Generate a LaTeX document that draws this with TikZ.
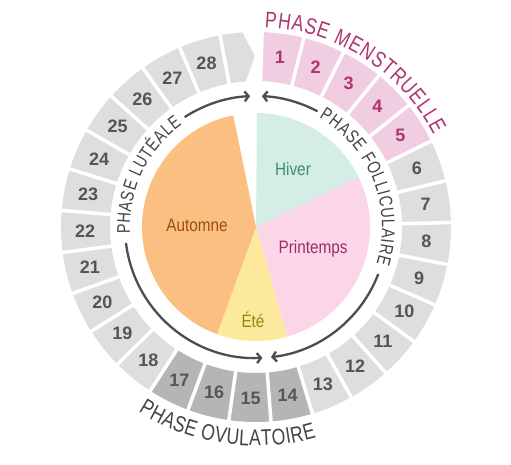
\documentclass[tikz,border=0pt]{standalone}
\usepackage{fontspec}
\setmainfont{Liberation Sans}
\newfontfamily\condfont{Liberation Sans}[FakeStretch=0.85]
\newfontfamily\narrowfont{Liberation Sans}[FakeStretch=0.78]
\usetikzlibrary{decorations.text,arrows.meta}
\definecolor{hiver}{HTML}{D4EDE6}
\definecolor{hivertext}{HTML}{3D8C70}
\definecolor{printemps}{HTML}{FBD5E8}
\definecolor{printempstext}{HTML}{9B2D6C}
\definecolor{ete}{HTML}{FDE99B}
\definecolor{etetext}{HTML}{8F8A17}
\definecolor{automne}{HTML}{FBBF82}
\definecolor{automnetext}{HTML}{9C4E10}
\definecolor{pinkseg}{HTML}{F0CDE0}
\definecolor{lightseg}{HTML}{DEDEDE}
\definecolor{darkseg}{HTML}{B5B5B5}
\definecolor{magtext}{HTML}{B0346E}
\definecolor{numgray}{HTML}{555555}
\definecolor{phasegray}{HTML}{444444}
\definecolor{arrowgray}{HTML}{4D4D4D}
\newcommand\innerphasefont{\narrowfont\fontsize{18.5}{18.5}\selectfont\color{phasegray}}
\newcommand\menstfont{\narrowfont\fontsize{22.5}{22.5}\selectfont\color{magtext}}
\newcommand\ovulfont{\narrowfont\fontsize{22.5}{22.5}\selectfont\color{phasegray}}
\tikzset{
  numlabel/.style={font=\fontsize{18}{18}\selectfont\bfseries, inner sep=0pt},
  pielabel/.style={font=\condfont\fontsize{18}{18}\selectfont, inner sep=0pt},
  cyclearrow/.style={draw=arrowgray, line width=2.3pt, -{Straight Barb[length=4pt,width=10pt,line width=2.3pt]}},
  sepline/.style={draw=white, line width=3.5pt}
}
\begin{document}
\begin{tikzpicture}[x=1pt,y=1pt]
\useasboundingbox (0,0) rectangle (511,465);
\fill[white] (0,0) rectangle (511,465);
\coordinate (c) at (256,238);
\begin{scope}[shift={(c)}]
  % pie
  \fill[hiver] (0,0) -- (89.5:114) arc[start angle=89.5,end angle=26,radius=114] -- cycle;
  \fill[printemps] (0,0) -- (26:114) arc[start angle=26,end angle=-74,radius=114] -- cycle;
  \fill[ete] (0,0) -- (-74:114) arc[start angle=-74,end angle=-110,radius=114] -- cycle;
  \fill[automne] (0,0) -- (-110:114) arc[start angle=-110,end angle=-258.5,radius=114] -- cycle;
  \node[pielabel, text=hivertext] (hiver) at (37,58) {Hiver};
  \node[pielabel, text=printempstext] (printemps) at (57,-22) {Printemps};
  \node[pielabel, text=etetext] (ete) at (-3,-93) {Été};
  \node[pielabel, text=automnetext] (automne) at (-59,2) {Automne};
  % ring segments
  \foreach \k in {1,...,28}{
    \pgfmathsetmacro\a{90-(8+(\k-1.5)*360/29)}
    \pgfmathsetmacro\b{\a-360/29}
    \pgfmathsetmacro\m{\a-180/29}
    \ifnum\k<6
      \def\segcol{pinkseg}\def\numcol{magtext}
    \else
      \def\numcol{numgray}
      \ifnum\k>13
        \ifnum\k<18 \def\segcol{darkseg}\else\def\segcol{lightseg}\fi
      \else
        \def\segcol{lightseg}
      \fi
    \fi
    \fill[\segcol] (\a:146) -- (\a:195) arc[start angle=\a,end angle=\b,radius=195] -- (\b:146) arc[start angle=\b,end angle=\a,radius=146] -- cycle;
    \node[numlabel, text=\numcol] (n\k) at (\m:171) {\k};
  }
  % arrow-shaped slot
  \fill[lightseg] (100.6:146) -- (100.6:195) arc[start angle=100.6,end angle=94,radius=195] -- (90.4:171) -- (94:146) arc[start angle=94,end angle=100.6,radius=146] -- cycle;
  \foreach \k in {1,...,29}{
    \pgfmathsetmacro\a{90-(8+(\k-1.5)*360/29)}
    \draw[sepline] (\a:140) -- (\a:200);
  }
  % cycle arrows
  \draw[cyclearrow] (123:131) arc[start angle=123,end angle=92.6,radius=131];
  \draw[cyclearrow] (62:131) arc[start angle=62,end angle=87.4,radius=131];
  \draw[cyclearrow] (-21:131) arc[start angle=-21,end angle=-83.4,radius=131];
  \draw[cyclearrow] (187:131) arc[start angle=187,end angle=272.8,radius=131];
  % phase texts
  \path[decorate,decoration={text along path,text={|\innerphasefont|PHASE LUTÉALE},text align={fit to path}}] (183:126) arc[start angle=183,end angle=126,radius=126];
  \path[decorate,decoration={text along path,text={|\innerphasefont|PHASE FOLLICULAIRE},text align={fit to path}}] (60:126) arc[start angle=60,end angle=-17,radius=126];
  \path[decorate,decoration={text along path,text={|\menstfont|PHASE MENSTRUELLE},text align={fit to path}}] (87.5:200) arc[start angle=87.5,end angle=27.5,radius=200];
  \path[decorate,decoration={text along path,text={|\ovulfont|PHASE OVULATOIRE},text align={fit to path}}] (237.5:219) arc[start angle=237.5,end angle=286,radius=219];
\end{scope}
\end{tikzpicture}
\end{document}
